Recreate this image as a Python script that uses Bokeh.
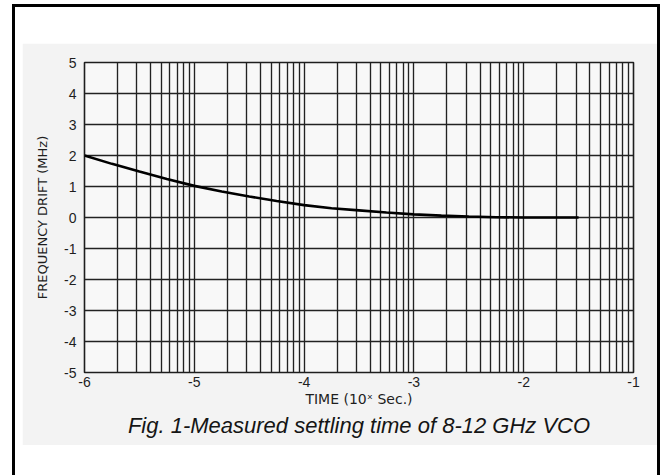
import numpy as np
from bokeh.plotting import figure
from bokeh.models import FixedTicker, Title, CustomJSTickFormatter
from bokeh.embed import file_html
from bokeh.resources import INLINE

# ---- data (x = exponent of time in seconds, y = frequency drift in MHz) ----
time_exp = [-6.0, -5.75, -5.5, -5.25, -5.0, -4.75, -4.5, -4.25, -4.0, -3.75,
            -3.5, -3.25, -3.0, -2.75, -2.5, -2.25, -2.0, -1.75, -1.5]
drift_mhz = [2.0, 1.73, 1.48, 1.24, 1.02, 0.84, 0.68, 0.53, 0.40, 0.30,
             0.23, 0.16, 0.10, 0.06, 0.03, 0.01, 0.0, 0.0, 0.0]

x_ticks = [-6, -5, -4, -3, -2, -1]
y_ticks = [-5, -4, -3, -2, -1, 0, 1, 2, 3, 4, 5]
grid_multipliers = [1, 2, 3, 4, 5, 6, 7, 8, 9]

x_title = "TIME (10ˣ Sec.)"
y_title = "FREQUENCY DRIFT (MHz)"
caption = "Fig. 1-Measured settling time of 8-12 GHz VCO"

# log-paper vertical grid positions
grid_x = [d + float(np.log10(m)) for d in x_ticks[:-1] for m in grid_multipliers] + [x_ticks[-1]]

FONT = "Liberation Sans"
LFONT = "DejaVu Sans"
INK = "#1e1e1e"
PAPER = "#f3f3f3"

# visible sheet: 635 x 402; the canvas also spans the CSS frame/padding (+13, +69)
p = figure(width=635, height=402, x_range=(x_ticks[0], x_ticks[-1]),
           y_range=(y_ticks[0], y_ticks[-1]),
           output_backend="svg", toolbar_location=None,
           min_border_left=62, min_border_right=37,
           min_border_top=19, min_border_bottom=142)

# outer white sheet with black frame (open at the bottom) around the grey paper
p.styles = {
    "box-sizing": "content-box",
    "margin-left": "12px",
    "margin-top": "4px",
    "border-left": "3px solid black",
    "border-top": "3px solid black",
    "border-right": "3px solid black",
    "padding": "36px 0px 30px 7px",
    "background-color": "white",
}

p.border_fill_color = PAPER
p.background_fill_color = "#f8f8f8"
p.outline_line_color = INK
p.outline_line_width = 1.6

# grids
p.xgrid.ticker = FixedTicker(ticks=grid_x)
p.ygrid.ticker = FixedTicker(ticks=y_ticks)
for g in (p.xgrid, p.ygrid):
    g.grid_line_color = "#222222"
    g.grid_line_width = 1.35
    g.grid_line_alpha = 1.0

# axes
p.xaxis.ticker = FixedTicker(ticks=x_ticks)
p.yaxis.ticker = FixedTicker(ticks=y_ticks)
fmt = CustomJSTickFormatter(code="return tick.toFixed(0);")
for ax in (p.xaxis, p.yaxis):
    ax.formatter = fmt
    ax.axis_line_color = None
    ax.major_tick_line_color = None
    ax.minor_tick_line_color = None
    ax.major_tick_out = 0
    ax.major_tick_in = 0
    ax.major_label_text_font = FONT
    ax.major_label_text_font_size = "14px"
    ax.major_label_text_color = INK
    ax.axis_label_text_font = LFONT
    ax.axis_label_text_font_style = "normal"
    ax.axis_label_text_color = INK

p.xaxis.axis_label = x_title
p.xaxis.axis_label_text_font_size = "14px"
p.xaxis.major_label_standoff = 4
p.xaxis.axis_label_standoff = 1

p.yaxis.axis_label = y_title
p.yaxis.axis_label_text_font_size = "13px"
p.yaxis.major_label_standoff = 8
p.yaxis.axis_label_standoff = 11

# curve
p.line(time_exp, drift_mhz, line_color="black", line_width=2.6)

# caption under the chart
cap = Title(text=caption, align="center", text_font=FONT,
            text_font_style="italic", text_font_size="22px",
            text_color="#151515", standoff=3, offset=-6)
p.add_layout(cap, "below")

open("out.html", "w").write(file_html(p, INLINE))
